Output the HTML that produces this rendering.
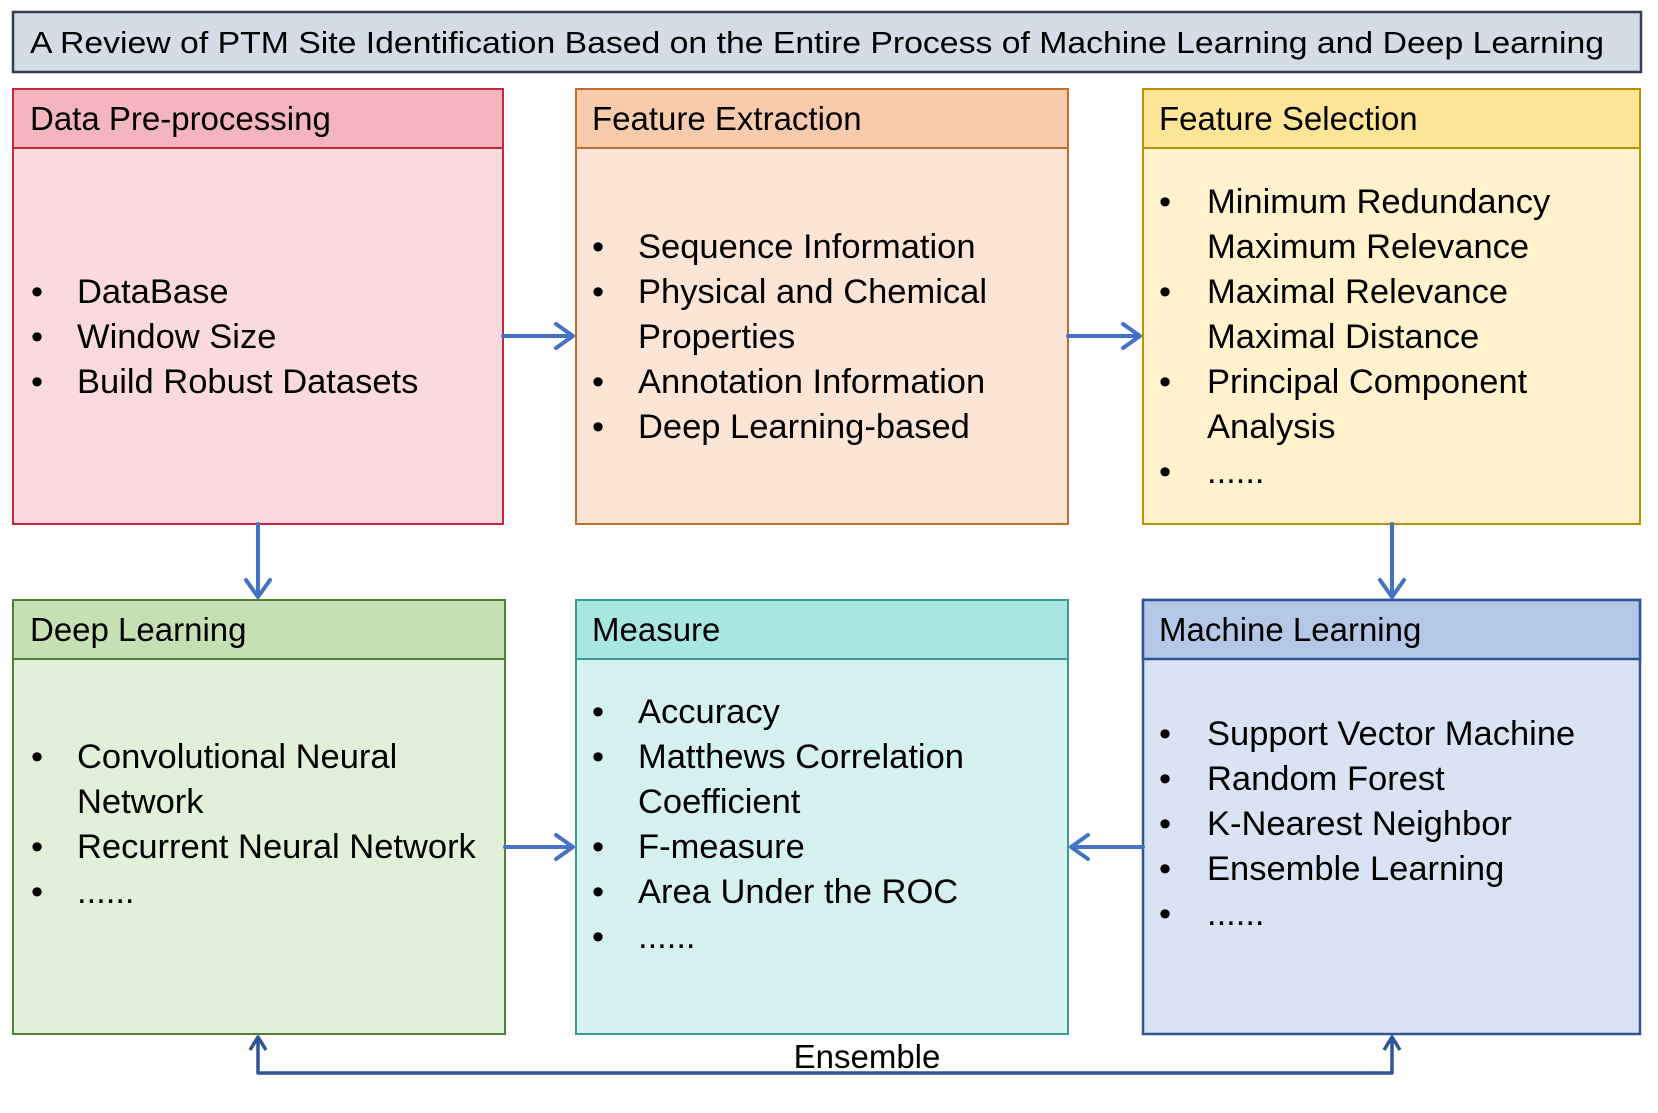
<!DOCTYPE html>
<html><head><meta charset="utf-8"><style>
html,body{margin:0;padding:0;background:#fff;}
svg{display:block;}
text{font-family:"Liberation Sans",sans-serif;fill:#000;}
.b{font-size:34.5px;}
.h{font-size:33px;}
</style></head><body>
<svg width="1658" height="1113" viewBox="0 0 1658 1113" xmlns="http://www.w3.org/2000/svg">
<!-- title -->
<rect x="13" y="12" width="1628" height="60" fill="#D6DCE5" stroke="#333F50" stroke-width="2.5"/>
<text x="30" y="53" font-size="31" textLength="1574" lengthAdjust="spacingAndGlyphs">A Review of PTM Site Identification Based on the Entire Process of Machine Learning and Deep Learning</text>

<!-- Pink -->
<rect x="13" y="89" width="490" height="435" fill="#FADADF" stroke="#C8283F" stroke-width="2"/>
<rect x="13" y="89" width="490" height="59" fill="#F4B5BF" stroke="#C8283F" stroke-width="2"/>
<text class="h" x="30" y="130">Data Pre-processing</text>
<text class="b" x="31" y="303">•</text><text class="b" x="77" y="303">DataBase</text>
<text class="b" x="31" y="348">•</text><text class="b" x="77" y="348">Window Size</text>
<text class="b" x="31" y="393">•</text><text class="b" x="77" y="393">Build Robust Datasets</text>

<!-- Orange -->
<rect x="576" y="89" width="492" height="435" fill="#FCE5D5" stroke="#C0702E" stroke-width="2"/>
<rect x="576" y="89" width="492" height="59" fill="#F8CBAC" stroke="#C0702E" stroke-width="2"/>
<text class="h" x="592" y="130">Feature Extraction</text>
<text class="b" x="592" y="258">•</text><text class="b" x="638" y="258">Sequence Information</text>
<text class="b" x="592" y="303">•</text><text class="b" x="638" y="303">Physical and Chemical</text>
<text class="b" x="638" y="348">Properties</text>
<text class="b" x="592" y="393">•</text><text class="b" x="638" y="393">Annotation Information</text>
<text class="b" x="592" y="438">•</text><text class="b" x="638" y="438">Deep Learning-based</text>

<!-- Yellow -->
<rect x="1143" y="89" width="497" height="435" fill="#FFF2CC" stroke="#BF9000" stroke-width="2"/>
<rect x="1143" y="89" width="497" height="59" fill="#FFE597" stroke="#BF9000" stroke-width="2"/>
<text class="h" x="1159" y="130">Feature Selection</text>
<text class="b" x="1159" y="213">•</text><text class="b" x="1207" y="213">Minimum Redundancy</text>
<text class="b" x="1207" y="258">Maximum Relevance</text>
<text class="b" x="1159" y="303">•</text><text class="b" x="1207" y="303">Maximal Relevance</text>
<text class="b" x="1207" y="348">Maximal Distance</text>
<text class="b" x="1159" y="393">•</text><text class="b" x="1207" y="393">Principal Component</text>
<text class="b" x="1207" y="438">Analysis</text>
<text class="b" x="1159" y="483">•</text><text class="b" x="1207" y="483">......</text>

<!-- Green -->
<rect x="13" y="600" width="492" height="434" fill="#E2F0D9" stroke="#548235" stroke-width="2"/>
<rect x="13" y="600" width="492" height="59" fill="#C5E0B3" stroke="#548235" stroke-width="2"/>
<text class="h" x="30" y="641">Deep Learning</text>
<text class="b" x="31" y="768">•</text><text class="b" x="77" y="768">Convolutional Neural</text>
<text class="b" x="77" y="813">Network</text>
<text class="b" x="31" y="858">•</text><text class="b" x="77" y="858">Recurrent Neural Network</text>
<text class="b" x="31" y="903">•</text><text class="b" x="77" y="903">......</text>

<!-- Teal -->
<rect x="576" y="600" width="492" height="434" fill="#D5F2F0" stroke="#3A9A96" stroke-width="2"/>
<rect x="576" y="600" width="492" height="59" fill="#A8E6E1" stroke="#3A9A96" stroke-width="2"/>
<text class="h" x="592" y="641">Measure</text>
<text class="b" x="592" y="723">•</text><text class="b" x="638" y="723">Accuracy</text>
<text class="b" x="592" y="768">•</text><text class="b" x="638" y="768">Matthews Correlation</text>
<text class="b" x="638" y="813">Coefficient</text>
<text class="b" x="592" y="858">•</text><text class="b" x="638" y="858">F-measure</text>
<text class="b" x="592" y="903">•</text><text class="b" x="638" y="903">Area Under the ROC</text>
<text class="b" x="592" y="948">•</text><text class="b" x="638" y="948">......</text>

<!-- Blue -->
<rect x="1143" y="600" width="497" height="434" fill="#DAE3F3" stroke="#2F5597" stroke-width="2.5"/>
<rect x="1143" y="600" width="497" height="59" fill="#B4C7E7" stroke="#2F5597" stroke-width="2.5"/>
<text class="h" x="1159" y="641">Machine Learning</text>
<text class="b" x="1159" y="745">•</text><text class="b" x="1207" y="745">Support Vector Machine</text>
<text class="b" x="1159" y="790">•</text><text class="b" x="1207" y="790">Random Forest</text>
<text class="b" x="1159" y="835">•</text><text class="b" x="1207" y="835">K-Nearest Neighbor</text>
<text class="b" x="1159" y="880">•</text><text class="b" x="1207" y="880">Ensemble Learning</text>
<text class="b" x="1159" y="925">•</text><text class="b" x="1207" y="925">......</text>

<!-- arrows -->
<g stroke="#4472C4" stroke-width="4" fill="none" stroke-linecap="round" stroke-linejoin="round">
<line x1="503" y1="336" x2="572" y2="336"/><polyline points="556,324 573,336 556,348"/>
<line x1="1068" y1="336" x2="1139" y2="336"/><polyline points="1123,324 1140,336 1123,348"/>
<line x1="258" y1="524" x2="258" y2="596"/><polyline points="246,580 258,597 270,580"/>
<line x1="1392" y1="524" x2="1392" y2="596"/><polyline points="1380,580 1392,597 1404,580"/>
<line x1="505" y1="847" x2="572" y2="847"/><polyline points="556,835 573,847 556,859"/>
<line x1="1143" y1="847" x2="1072" y2="847"/><polyline points="1088,835 1071,847 1088,859"/>
</g>
<g stroke="#2F5597" stroke-width="3.5" fill="none" stroke-linejoin="round">
<polyline points="258,1038 258,1073 1392,1073 1392,1038"/>
<polyline points="250,1050 258,1037 266,1050"/>
<polyline points="1384,1050 1392,1037 1400,1050"/>
</g>
<text x="867" y="1068" font-size="33" text-anchor="middle">Ensemble</text>
</svg>
</body></html>
